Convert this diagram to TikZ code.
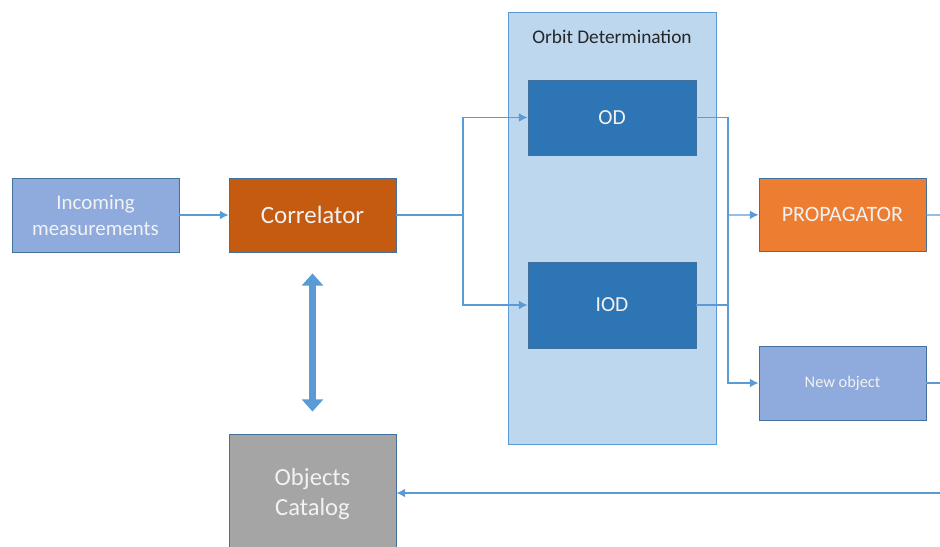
\documentclass[tikz,border=0pt]{standalone}
\usepackage{fontspec}
\setmainfont{Carlito}
\usetikzlibrary{arrows.meta}
\definecolor{incfill}{HTML}{8FAADC}
\definecolor{corfill}{HTML}{C55A11}
\definecolor{contfill}{HTML}{BDD7EE}
\definecolor{odfill}{HTML}{2E75B6}
\definecolor{propfill}{HTML}{ED7D31}
\definecolor{catfill}{HTML}{A5A5A5}
\definecolor{lineblue}{HTML}{5B9BD5}
\definecolor{edgeblue}{HTML}{41719C}
\definecolor{txtwhite}{HTML}{F2F2F2}
\begin{document}
\begin{tikzpicture}[x=0.02cm,y=-0.02cm,
        blk/.style={draw=edgeblue, line width=0.5pt, text=txtwhite, align=center, inner sep=0pt},
        conn/.style={lineblue, line width=0.7pt},
        arr/.style={conn, -{Latex[length=5pt,width=5pt]}}]
    \useasboundingbox (0,0) rectangle (940,547);

    % orbit determination group
    \node[blk, fill=contfill, draw=lineblue, minimum width=4.16cm, minimum height=8.64cm] (group) at (612,228) {};
    \node[text=black!85, font=\fontsize{11}{13}\selectfont, anchor=base] (grouptitle) at (612,44) {Orbit Determination};

    \node[blk, fill=incfill, minimum width=3.34cm, minimum height=1.48cm, font=\fontsize{11.9}{14.7}\selectfont] (inc) at (95.5,215) {Incoming\\measurements};
    \node[blk, fill=corfill, minimum width=3.34cm, minimum height=1.48cm, font=\fontsize{14.2}{17}\selectfont] (cor) at (312.5,215) {Correlator};
    \node[blk, fill=odfill, minimum width=3.36cm, minimum height=1.5cm, font=\fontsize{12.2}{14}\selectfont] (od) at (612,117.5) {OD};
    \node[blk, fill=odfill, minimum width=3.36cm, minimum height=1.72cm, font=\fontsize{12.2}{14}\selectfont] (iod) at (612,305) {IOD};
    \node[blk, fill=propfill, minimum width=3.34cm, minimum height=1.46cm, font=\fontsize{12.5}{15}\selectfont] (prop) at (842.5,214.5) {PROPAGATOR};
    \node[blk, fill=incfill, minimum width=3.34cm, minimum height=1.48cm, font=\fontsize{9.3}{11}\selectfont] (newobj) at (842.5,383) {New object};
    \node[blk, fill=catfill, minimum width=3.34cm, minimum height=2.4cm, font=\fontsize{14}{17}\selectfont] (cat) at (312.5,494) {Objects\\Catalog};

    \coordinate (split) at (463,215);
    \coordinate (join) at (728,215);
    \coordinate (outprop) at (940,215);
    \coordinate (outnew) at (940,383);
    \coordinate (incat) at (940,493);

    \draw[arr] (inc) -- (cor);
    \draw[conn] (cor) -- (split);
    \draw[arr] (split) |- (od);
    \draw[arr] (split) |- (iod);
    \draw[conn] (od) -| (join);
    \draw[conn] (iod) -| (join);
    \draw[arr] (join) -- (prop);
    \draw[arr] (join) |- (newobj);
    \draw[conn] (prop) -- (outprop);
    \draw[conn] (newobj) -- (outnew);
    \draw[arr] (incat) -- (cat.east |- incat);

    % catalog link
    \draw[lineblue, line width=4.5pt, {Triangle[width=12pt,length=7pt]}-{Triangle[width=12pt,length=7pt]},
        shorten <=0.42cm, shorten >=0.44cm] (cor.south) -- (cat.north);
\end{tikzpicture}
\end{document}
